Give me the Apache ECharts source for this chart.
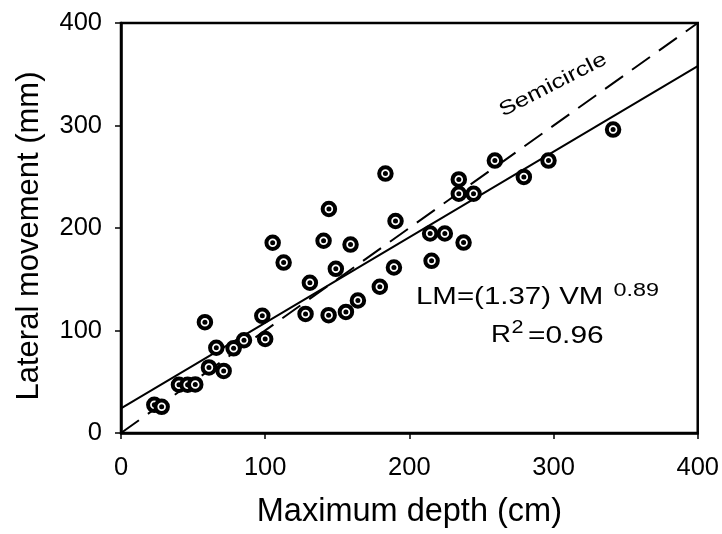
<!DOCTYPE html>
<html><head><meta charset="utf-8">
<script src="https://cdn.jsdelivr.net/npm/echarts@6/dist/echarts.min.js"></script>
<style>html,body{margin:0;padding:0;background:#fff}#c{width:722px;height:534px}</style>
</head><body><div id="c"></div>
<script>
// Maximum depth (cm)
const depth = [23.1, 28.2, 40.2, 46.2, 51.5, 58.2, 61.0, 66.1, 71.2, 78.1, 85.3, 98.0, 100.0, 105.2, 112.8, 128.0, 131.0, 140.5, 144.0, 144.2, 149.0, 156.0, 159.2, 164.3, 179.5, 183.4, 189.3, 190.4, 214.4, 215.4, 224.6, 234.3, 234.3, 237.6, 244.5, 259.3, 279.4, 296.5, 341.3];
// Lateral movement (mm)
const lateral = [27.5, 25.5, 47.1, 47.1, 47.4, 108.1, 64.0, 83.2, 60.6, 82.6, 90.5, 114.3, 91.7, 185.6, 166.3, 116.2, 146.6, 187.6, 115.0, 218.5, 160.2, 118.1, 183.8, 129.3, 142.7, 253.1, 161.5, 206.8, 194.6, 168.0, 194.6, 247.4, 233.4, 185.8, 233.4, 265.8, 249.8, 265.8, 296.0];
// regression line end points
const fitX = [0, 400];
const fitY = [24, 358];
// semicircle line end points
const semiX = [0, 400];
const semiY = [0, 400];
const axisMin = 0, axisMax = 400, axisStep = 100;

const pts = depth.map((d, i) => [d, lateral[i]]);
const FONT = 'Liberation Sans, Arial, sans-serif';

const chart = echarts.init(document.getElementById('c'), null, {renderer: 'canvas'});
chart.setOption({
  animation: false,
  backgroundColor: '#fff',
  grid: {left: 121, right: 24, top: 23, bottom: 97, show: true, borderColor: '#000', borderWidth: 2.5, backgroundColor: 'transparent'},
  xAxis: {
    type: 'value', min: axisMin, max: axisMax, interval: axisStep,
    name: 'Maximum depth (cm)', nameLocation: 'middle', nameGap: 63,
    nameTextStyle: {fontFamily: FONT, fontSize: 32.5, color: '#000'},
    axisLine: {show: true, lineStyle: {color: '#000', width: 2.5}},
    axisTick: {show: true, inside: false, length: 6, lineStyle: {color: '#000', width: 1.5}},
    axisLabel: {margin: 22, fontFamily: FONT, fontSize: 25.5, color: '#000', showMinLabel: true, showMaxLabel: true},
    splitLine: {show: false}
  },
  yAxis: {
    type: 'value', min: axisMin, max: axisMax, interval: axisStep,
    name: 'Lateral movement (mm)', nameLocation: 'middle', nameGap: 76,
    nameTextStyle: {fontFamily: FONT, fontSize: 31, color: '#000', padding: [0, 16, 0, 0]},
    axisLine: {show: true, lineStyle: {color: '#000', width: 2.5}},
    axisTick: {show: true, inside: false, length: 6, lineStyle: {color: '#000', width: 1.5}},
    axisLabel: {margin: 19, fontFamily: FONT, fontSize: 25.5, color: '#000', showMinLabel: true, showMaxLabel: true},
    splitLine: {show: false}
  },
  series: [
    {type: 'line', data: semiX.map((x, i) => [x, semiY[i]]), showSymbol: false, symbol: 'none',
     lineStyle: {color: '#000', width: 2, type: [22, 11]}, z: 2, silent: true},
    {type: 'line', data: fitX.map((x, i) => [x, fitY[i]]), showSymbol: false, symbol: 'none',
     lineStyle: {color: '#000', width: 2}, z: 2, silent: true},
    {type: 'scatter', data: pts, symbol: 'circle', symbolSize: 12.5,
     itemStyle: {color: '#fff', borderColor: '#000', borderWidth: 4, opacity: 1}, z: 5},
    {type: 'scatter', data: pts, symbol: 'circle', symbolSize: 5,
     itemStyle: {color: '#000', opacity: 1}, z: 6, silent: true}
  ],
  graphic: [
    {type: 'text', x: 553, y: 85, rotation: 27 * Math.PI / 180, scaleX: 1.28, z: 10,
     style: {text: 'Semicircle', font: '20px ' + FONT, fill: '#000', textAlign: 'center', textVerticalAlign: 'middle'}},
    {type: 'text', x: 416, y: 297.5, scaleX: 1.28, z: 10,
     style: {text: 'LM=(1.37) VM', font: '23px ' + FONT, fill: '#000', textAlign: 'left', textVerticalAlign: 'middle'}},
    {type: 'text', x: 613.5, y: 291, scaleX: 1.3, z: 10,
     style: {text: '0.89', font: '18px ' + FONT, fill: '#000', textAlign: 'left', textVerticalAlign: 'middle'}},
    {type: 'text', x: 491, y: 336, scaleX: 1.2, z: 10,
     style: {text: 'R', font: '23px ' + FONT, fill: '#000', textAlign: 'left', textVerticalAlign: 'middle'}},
    {type: 'text', x: 511.5, y: 328.3, scaleX: 1.2, z: 10,
     style: {text: '2', font: '18px ' + FONT, fill: '#000', textAlign: 'left', textVerticalAlign: 'middle'}},
    {type: 'text', x: 528, y: 337, scaleX: 1.3, z: 10,
     style: {text: '=0.96', font: '23px ' + FONT, fill: '#000', textAlign: 'left', textVerticalAlign: 'middle'}}
  ]
});
</script>
</body></html>
